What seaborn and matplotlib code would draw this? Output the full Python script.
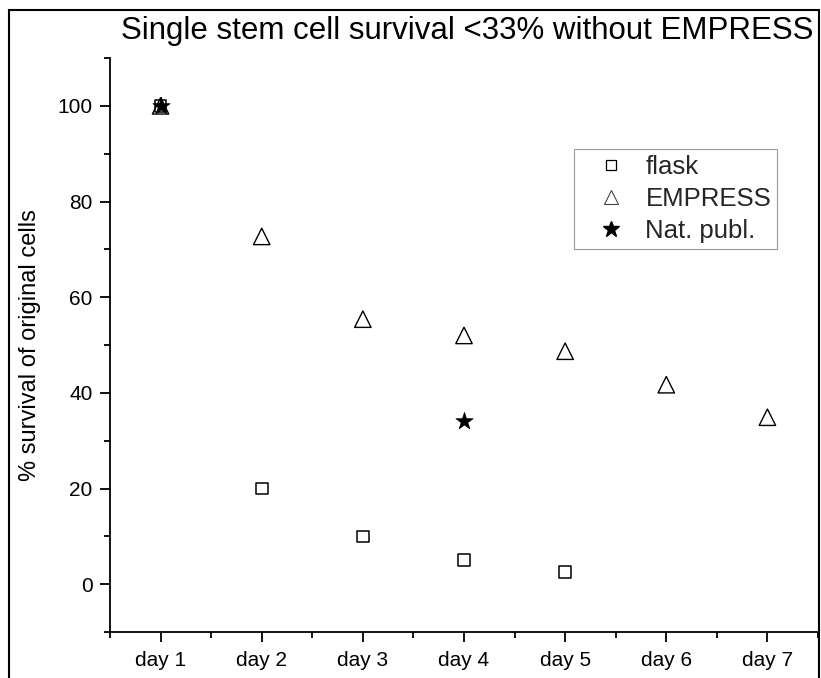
import matplotlib
matplotlib.use("Agg")
import matplotlib.pyplot as plt
from matplotlib.lines import Line2D
from matplotlib.patches import Rectangle
from matplotlib.ticker import FixedLocator
import seaborn as sns
import pandas as pd

days = ["day 1", "day 2", "day 3", "day 4", "day 5", "day 6", "day 7"]
flask_days = ["day 1", "day 2", "day 3", "day 4", "day 5"]
flask_vals = [100, 20, 10, 5, 2.5]
empress_days = ["day 1", "day 2", "day 3", "day 4", "day 5", "day 6", "day 7"]
empress_vals = [100, 72.7, 55.4, 52, 48.7, 41.7, 34.9]
natpubl_days = ["day 1", "day 4"]
natpubl_vals = [100, 34.2]

sns.set_theme(style="white")
plt.rcParams["font.family"] = ["Liberation Sans", "DejaVu Sans"]

fig = plt.figure(figsize=(8.21, 6.78), dpi=100)
ax = fig.add_axes([110 / 821, 1 - 632 / 678, (818 - 110) / 821, (632 - 58) / 678])

pos = {d: i for i, d in enumerate(days)}
df_f = pd.DataFrame({"x": [pos[d] for d in flask_days], "y": flask_vals})
df_e = pd.DataFrame({"x": [pos[d] for d in empress_days], "y": empress_vals})
df_n = pd.DataFrame({"x": [pos[d] for d in natpubl_days], "y": natpubl_vals})

sns.scatterplot(data=df_f, x="x", y="y", ax=ax, marker="s", s=70,
                facecolors="none", edgecolor="black", linewidth=1.1, zorder=3)
sns.scatterplot(data=df_e, x="x", y="y", ax=ax, marker="^", s=140,
                facecolors="none", edgecolor="black", linewidth=1.0, zorder=3)
sns.scatterplot(data=df_n, x="x", y="y", ax=ax, marker="*", s=170,
                color="black", edgecolor="black", linewidth=0.5, zorder=4)

ax.set_xlim(-0.5, 6.5)
ax.set_ylim(-10, 110)
ax.set_xticks(range(len(days)))
ax.set_xticklabels(days)
ax.xaxis.set_minor_locator(FixedLocator([i - 0.5 for i in range(len(days) + 1)]))
ax.set_yticks([0, 20, 40, 60, 80, 100])
ax.yaxis.set_minor_locator(FixedLocator([-10, 10, 30, 50, 70, 90, 110]))
ax.tick_params(which="major", direction="out", length=7.5, width=1.3,
               color="black", labelsize=15, labelcolor="black", pad=5,
               bottom=True, left=True)
ax.tick_params(axis="x", which="major", pad=6)
ax.tick_params(which="minor", direction="out", length=4, width=1.3,
               color="black", bottom=True, left=True)
ax.set_xlabel("")
ax.set_ylabel("% survival of original cells", fontsize=17, color="black")
ax.yaxis.set_label_coords(-0.098, 0.5)

for side in ["top", "right"]:
    ax.spines[side].set_visible(False)
for side in ["left", "bottom"]:
    ax.spines[side].set_color("black")
    ax.spines[side].set_linewidth(1.3)

fig.text(0.569, 0.955, "Single stem cell survival <33% without EMPRESS",
         ha="center", va="center", fontsize=22.5, color="black")

handles = [
    Line2D([], [], linestyle="", marker="s", markersize=7.5, markerfacecolor="none",
           markeredgecolor="black", markeredgewidth=0.9),
    Line2D([], [], linestyle="", marker="^", markersize=10, markerfacecolor="none",
           markeredgecolor="#444444", markeredgewidth=0.8),
    Line2D([], [], linestyle="", marker="*", markersize=12, color="black"),
]
leg = ax.legend(handles, ["flask", "EMPRESS", "Nat. publ."], loc="upper left",
                bbox_to_anchor=((574 - 110) / 708, 1 - (149 - 58) / 574),
                fontsize=18.5, frameon=True, fancybox=False, borderpad=0.23,
                labelspacing=0.32, handletextpad=0.15, handlelength=2.4,
                borderaxespad=0)
leg.get_frame().set_edgecolor("#808080")
leg.get_frame().set_linewidth(0.8)

fig.add_artist(Rectangle((9 / 821, -0.05), (819 - 9) / 821, 1.05 - 10 / 678,
                         transform=fig.transFigure, fill=False,
                         edgecolor="black", linewidth=1.5, clip_on=False))

fig.savefig("out.png", dpi=100)
